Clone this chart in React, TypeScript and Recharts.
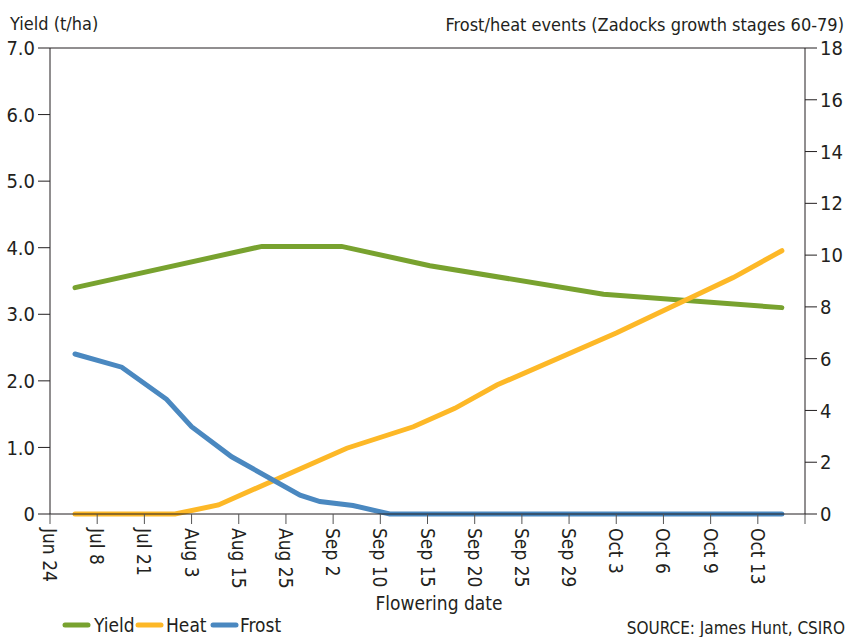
import React from "react";
import {
  LineChart,
  Line,
  XAxis,
  YAxis,
  ReferenceLine,
  Legend,
} from "recharts";

const FONT = '"Liberation Sans Narrow", "Arial Narrow", "DejaVu Sans Condensed", sans-serif';
const INK = "#231f20";

// flowering date labels, one per sowing slot
const flowerDates = [
  "Jun 24", "Jul 8", "Jul 21", "Aug 3", "Aug 15", "Aug 25", "Sep 2", "Sep 10",
  "Sep 15", "Sep 20", "Sep 25", "Sep 29", "Oct 3", "Oct 6", "Oct 9", "Oct 13",
];

// x positions are in slot units (0 = Jun 24 tick)
const yieldX = [0.53, 4.49, 6.18, 8.05, 11.73, 15.51];
const yieldT = [3.4, 4.02, 4.02, 3.73, 3.3, 3.1];

const heatX = [0.53, 2.65, 3.57, 6.29, 7.7, 8.58, 9.47, 12.0, 14.48, 15.51];
const heatEvents = [0, 0, 0.35, 2.54, 3.37, 4.08, 4.98, 6.99, 9.13, 10.17];

const frostX = [0.53, 1.52, 2.47, 3.0, 3.85, 5.3, 5.72, 6.42, 7.2, 15.51];
const frostEvents = [6.18, 5.67, 4.43, 3.37, 2.21, 0.73, 0.48, 0.33, 0, 0];

const yieldTicks = [0, 1, 2, 3, 4, 5, 6, 7];
const eventTicks = [0, 2, 4, 6, 8, 10, 12, 14, 16, 18];
const slotTicks = Array.from({ length: 17 }, (_, i) => i);

const GREEN = "#78a22f";
const ORANGE = "#fdb827";
const BLUE = "#4a88c0";

const yieldData = yieldX.map((x, i) => ({ x, v: yieldT[i] }));
const heatData = heatX.map((x, i) => ({ x, v: heatEvents[i] }));
const frostData = frostX.map((x, i) => ({ x, v: frostEvents[i] }));

const legendItems = [
  { name: "Yield", color: GREEN, lx: 5, tx: 34 },
  { name: "Heat", color: ORANGE, lx: 78, tx: 106 },
  { name: "Frost", color: BLUE, lx: 153, tx: 180 },
];

function DateTick(props: any) {
  const { x, y, payload } = props;
  const label = flowerDates[payload.value] ?? "";
  return (
    <text
      transform={`translate(${x},${y}) rotate(90)`}
      textAnchor="start"
      dominantBaseline="central"
      fontFamily={FONT}
      fontSize={19}
      fill={INK}
    >
      {label}
    </text>
  );
}

function LegendBox() {
  return (
    <svg width={240} height={26} style={{ display: "block", overflow: "visible" }}>
      {legendItems.map((it) => (
        <g key={it.name}>
          <line
            x1={it.lx}
            x2={it.lx + 23}
            y1={14}
            y2={14}
            stroke={it.color}
            strokeWidth={5}
            strokeLinecap="round"
          />
          <text x={it.tx} y={21} fontFamily={FONT} fontSize={19} fill={INK}>
            {it.name}
          </text>
        </g>
      ))}
    </svg>
  );
}

export default function App() {
  return (
    <div style={{ position: "absolute", left: 0, top: 0, width: 848, height: 637, background: "#fff", overflow: "hidden" }}>
      <LineChart
        width={848}
        height={637}
        margin={{ top: 48, right: 0, bottom: 0, left: 0 }}
      >
        <XAxis
          type="number"
          dataKey="x"
          domain={[0, 16]}
          ticks={slotTicks}
          interval={0}
          tick={<DateTick />}
          tickSize={10}
          tickMargin={4}
          height={123}
          axisLine={{ stroke: INK }}
          tickLine={{ stroke: "#555" }}
        />
        <YAxis
          yAxisId="left"
          domain={[0, 7]}
          ticks={yieldTicks}
          width={50}
          tickSize={12}
          tickMargin={3}
          tickFormatter={(v: number) => (v === 0 ? "0" : v.toFixed(1))}
          tick={{ fontFamily: FONT, fontSize: 20, fill: INK }}
          axisLine={{ stroke: INK }}
          tickLine={{ stroke: INK }}
        />
        <YAxis
          yAxisId="right"
          orientation="right"
          domain={[0, 18]}
          ticks={eventTicks}
          width={43}
          tickSize={12}
          tickMargin={3}
          tick={{ fontFamily: FONT, fontSize: 20, fill: INK, textAnchor: "start" }}
          axisLine={{ stroke: INK }}
          tickLine={{ stroke: INK }}
        />
        <ReferenceLine yAxisId="left" y={7} stroke={INK} />
        <Line
          yAxisId="left"
          data={yieldData}
          dataKey="v"
          name="Yield"
          stroke={GREEN}
          strokeWidth={5}
          strokeLinecap="round"
          dot={false}
          isAnimationActive={false}
        />
        <Line
          yAxisId="right"
          data={heatData}
          dataKey="v"
          name="Heat"
          stroke={ORANGE}
          strokeWidth={5}
          strokeLinecap="round"
          dot={false}
          isAnimationActive={false}
        />
        <Line
          yAxisId="right"
          data={frostData}
          dataKey="v"
          name="Frost"
          stroke={BLUE}
          strokeWidth={5}
          strokeLinecap="round"
          dot={false}
          isAnimationActive={false}
        />
        <Legend
          layout="horizontal"
          verticalAlign="middle"
          align="center"
          content={() => <LegendBox />}
          wrapperStyle={{ left: 60, top: 611, width: 240 }}
        />
        <text x={10} y={30} fontFamily={FONT} fontSize={18} fill={INK}>
          Yield (t/ha)
        </text>
        <text x={844} y={31} textAnchor="end" fontFamily={FONT} fontSize={18} fill={INK}>
          Frost/heat events (Zadocks growth stages 60-79)
        </text>
        <text x={439} y={610} textAnchor="middle" fontFamily={FONT} fontSize={19} fill={INK}>
          Flowering date
        </text>
        <text x={845} y={634} textAnchor="end" fontFamily={FONT} fontSize={17} fill={INK}>
          SOURCE: James Hunt, CSIRO
        </text>
      </LineChart>
    </div>
  );
}
